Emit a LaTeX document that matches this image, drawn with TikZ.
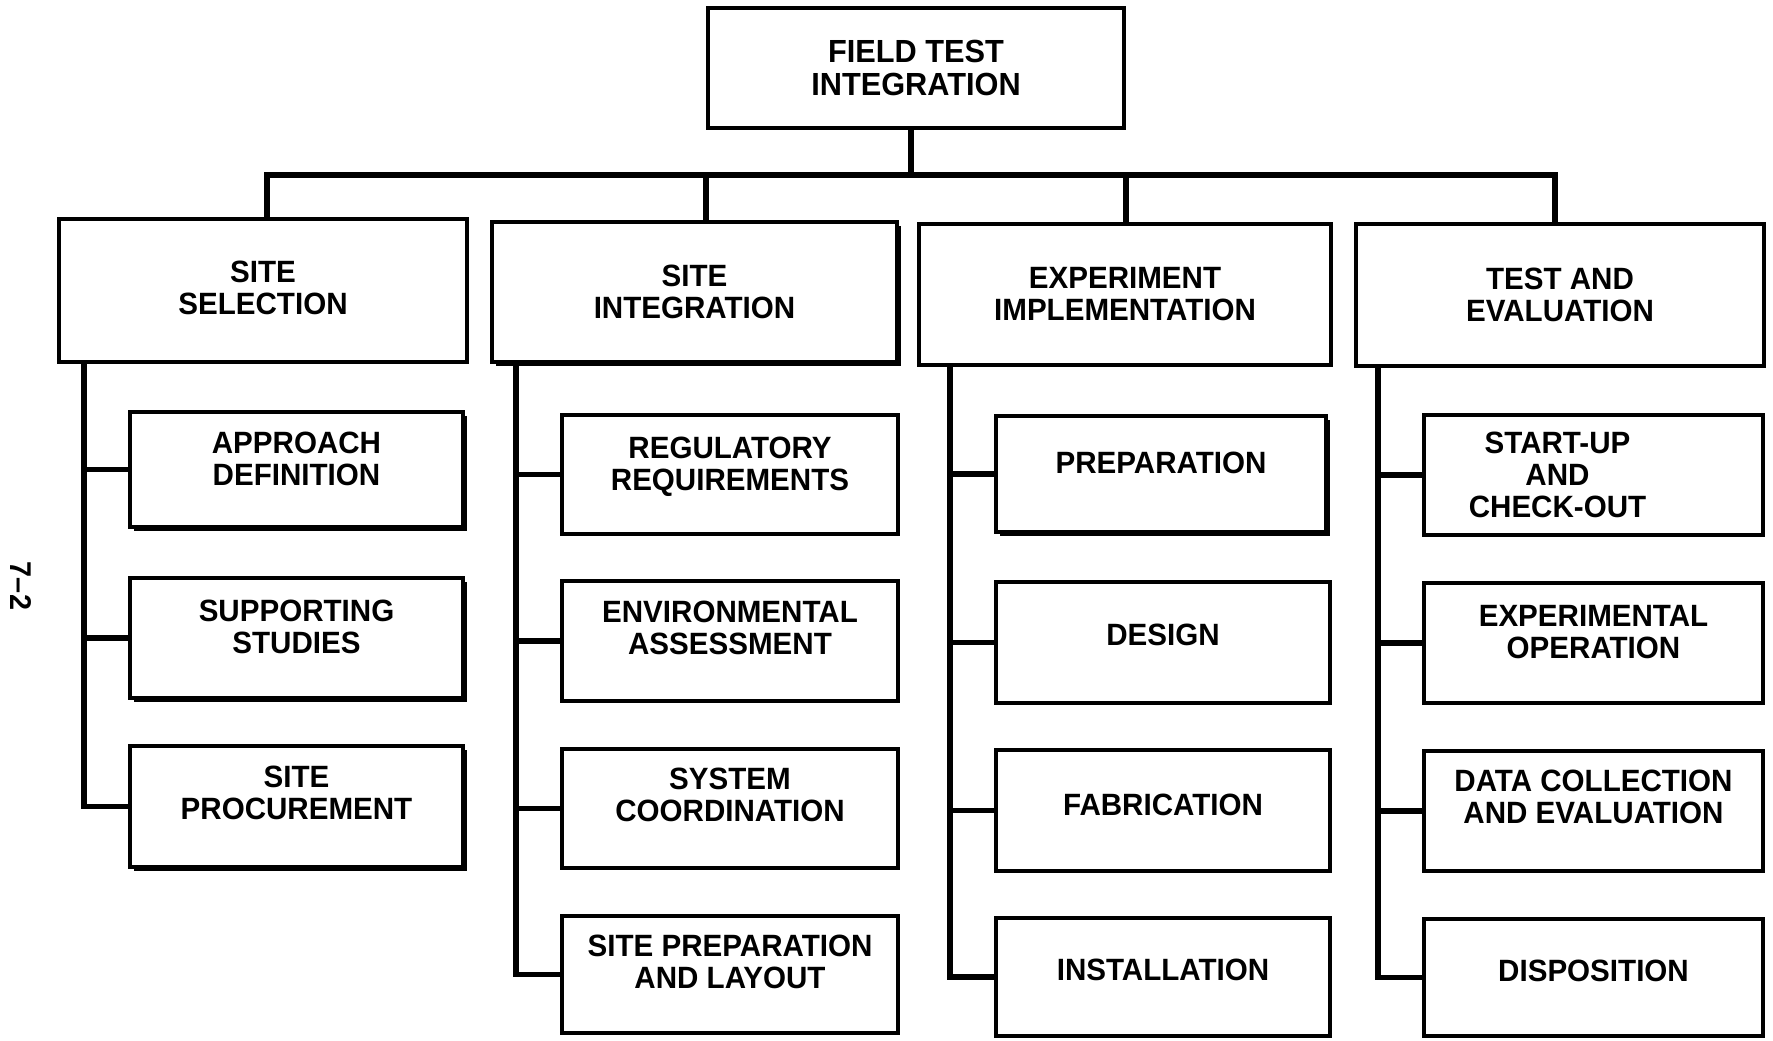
\documentclass[tikz,border=0pt]{standalone}
\usepackage{fontspec}
\setmainfont{Liberation Sans}[FakeStretch=0.96]
\usetikzlibrary{shadows}
\begin{document}
\begin{tikzpicture}[x=0.5pt,y=-0.5pt,
  box/.style={draw, line width=2.3pt, fill=white, align=center, inner sep=2pt,
    font=\bfseries\fontsize{15.4}{16}\selectfont},
  topbox/.style={box, font=\bfseries\fontsize{16}{16.5}\selectfont},
  child/.style={box, text depth=11pt},
  shad/.style={general shadow={fill=black, shadow xshift=2.2pt, shadow yshift=-2.2pt}},
  link/.style={line width=2.6pt, line join=miter}
]
\path[use as bounding box, fill=white] (0,0) rectangle (1773,1040);

% page number
\node[rotate=-90, font=\bfseries\fontsize{15}{15}\selectfont] (pg) at (21,586) {7--2};

% top
\node[topbox, minimum width=208pt, minimum height=60pt] (top) at (916,68) {FIELD TEST\\INTEGRATION};

% level 2
\node[box, minimum width=204pt, minimum height=71.5pt, text depth=3pt] (ss) at (263,290.5) {SITE\\SELECTION};
\node[box, shad, minimum width=202.5pt, minimum height=70pt] (si) at (694.5,292) {SITE\\INTEGRATION};
\node[box, minimum width=206pt, minimum height=70.5pt] (ei) at (1125,294.5) {EXPERIMENT\\IMPLEMENTATION};
\node[box, minimum width=204pt, minimum height=71pt] (te) at (1560,295) {TEST AND\\EVALUATION};

% site selection children
\node[child, shad, minimum width=166.5pt, minimum height=57.5pt] (ad) at (296.5,469.5) {APPROACH\\DEFINITION};
\node[child, shad, minimum width=166.5pt, minimum height=60pt] (sup) at (296.5,638) {SUPPORTING\\STUDIES};
\node[child, shad, minimum width=166.5pt, minimum height=60.5pt, text depth=14pt] (sp) at (296.5,806.5) {SITE\\PROCUREMENT};

% site integration children
\node[child, minimum width=168pt, minimum height=59.5pt] (reg) at (730,474.5) {REGULATORY\\REQUIREMENTS};
\node[child, minimum width=168pt, minimum height=60pt, text depth=13pt] (env) at (730,641) {ENVIRONMENTAL\\ASSESSMENT};
\node[child, minimum width=168pt, minimum height=59.5pt, text depth=14pt] (sys) at (730,808.5) {SYSTEM\\COORDINATION};
\node[child, minimum width=168pt, minimum height=58.5pt, text depth=13pt] (prep) at (730,974.5) {SITE PREPARATION\\AND LAYOUT};

% experiment implementation children
\node[child, shad, minimum width=165pt, minimum height=58pt] (pre) at (1161,474) {PREPARATION};
\node[child, minimum width=167pt, minimum height=60.5pt, text depth=8pt] (des) at (1163,642.5) {DESIGN};
\node[child, minimum width=167pt, minimum height=60.5pt, text depth=6pt] (fab) at (1163,810.5) {FABRICATION};
\node[child, minimum width=167pt, minimum height=59pt, text depth=7pt] (ins) at (1163,977) {INSTALLATION};

% test and evaluation children
\node[child, minimum width=169.5pt, minimum height=60pt, text depth=0pt] (su) at (1593.5,475)
  {\hspace*{-36pt}START-UP\\\hspace*{-36pt}AND\\\hspace*{-36pt}CHECK-OUT};
\node[child, minimum width=169.5pt, minimum height=60pt] (eo) at (1593.5,643) {EXPERIMENTAL\\OPERATION};
\node[child, minimum width=169.5pt, minimum height=60pt, text depth=14pt] (dc) at (1593.5,811) {DATA COLLECTION\\AND EVALUATION};
\node[child, minimum width=169.5pt, minimum height=58.5pt, text depth=7pt] (dis) at (1593.5,977.5) {DISPOSITION};

% top connectors
\coordinate (bar) at (911,175);
\coordinate (d1) at (267,175);
\coordinate (d2) at (706,175);
\coordinate (d3) at (1126,175);
\coordinate (d4) at (1555,175);
\draw[link] (top.south -| bar) -- (bar);
\draw[link] (d1 |- ss.north) -- (d1) -- (d4) -- (d4 |- te.north);
\draw[link] (d2) -- (d2 |- si.north);
\draw[link] (d3) -- (d3 |- ei.north);

% spines
\coordinate (ssS) at (84,362);
\coordinate (siS) at (516,363);
\coordinate (eiS) at (950,366);
\coordinate (teS) at (1378,366);

\draw[link] (ssS) |- (sp.west);
\draw[link] (ssS |- ad.west) -- (ad.west);
\draw[link] (ssS |- sup.west) -- (sup.west);

\draw[link] (siS) |- (prep.west);
\draw[link] (siS |- reg.west) -- (reg.west);
\draw[link] (siS |- env.west) -- (env.west);
\draw[link] (siS |- sys.west) -- (sys.west);

\draw[link] (eiS) |- (ins.west);
\draw[link] (eiS |- pre.west) -- (pre.west);
\draw[link] (eiS |- des.west) -- (des.west);
\draw[link] (eiS |- fab.west) -- (fab.west);

\draw[link] (teS) |- (dis.west);
\draw[link] (teS |- su.west) -- (su.west);
\draw[link] (teS |- eo.west) -- (eo.west);
\draw[link] (teS |- dc.west) -- (dc.west);
\end{tikzpicture}
\end{document}
